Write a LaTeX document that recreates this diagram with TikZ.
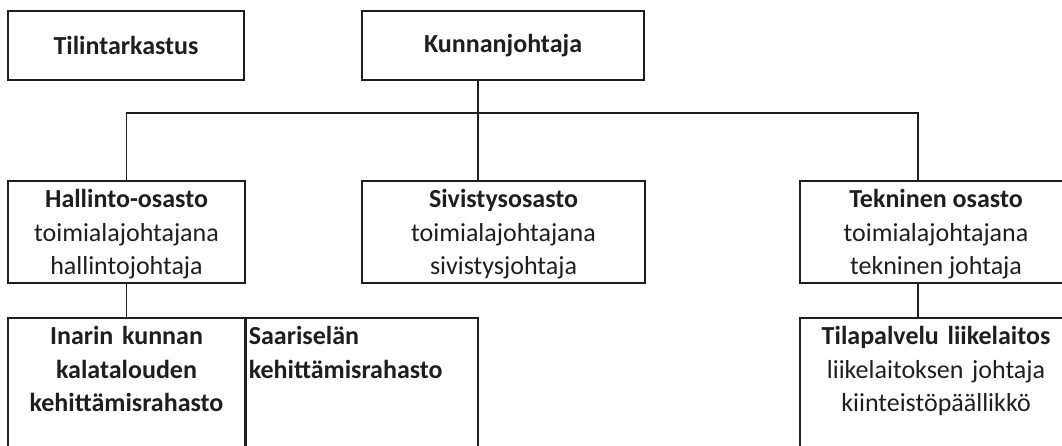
\documentclass[tikz,border=0pt]{standalone}
\usepackage{fontspec}
\setmainfont{Carlito}
\usepackage{tikz}
\usetikzlibrary{positioning}

\definecolor{ink}{HTML}{1e1e1e}
\tikzset{
    box/.style={draw=ink, line width=1.6pt, rectangle, inner xsep=0pt, inner ysep=0pt,
        align=center, text=ink, font=\fontsize{26}{33.5}\selectfont},
    midbox/.style={box, minimum height=102pt, text depth=0pt},
    topbox/.style={box, anchor=north, text height=27pt, text depth=140pt},
    link/.style={draw=ink, line width=1.6pt}
}

\begin{document}
\begin{tikzpicture}[x=1pt,y=-1pt]
    \useasboundingbox (0,0) rectangle (1062,445);
    \clip (0,0) rectangle (1062,445);
    \node[box, minimum width=236pt, minimum height=69pt] (tili) at (126,45.5) {\textbf{Tilintarkastus}};
    \node[box, minimum width=282pt, minimum height=69pt] (kunnan) at (503,45.5) {\textbf{Kunnanjohtaja}};
    \node[midbox, minimum width=237pt] (hallinto) at (126.5,232)
        {\textbf{Hallinto-osasto}\\toimialajohtajana\\hallintojohtaja};
    \node[midbox, minimum width=283pt] (sivistys) at (503.5,232)
        {\textbf{Sivistysosasto}\\toimialajohtajana\\sivistysjohtaja};
    \node[midbox, minimum width=272pt] (tekninen) at (936,232)
        {\textbf{Tekninen osasto}\\toimialajohtajana\\tekninen johtaja};
    \node[topbox, text width=237pt] (inari) at (126.5,317)
        {\textbf{Inarin kunnan}\\\textbf{kalatalouden}\\\textbf{kehittämisrahasto}};
    \node[topbox, anchor=north west, align=left, inner xsep=3pt, text width=226pt] (saari) at (245,317)
        {\textbf{Saariselän}\\\textbf{kehittämisrahasto}};
    \node[topbox, text width=272pt] (tila) at (936,317)
        {\textbf{Tilapalvelu liikelaitos}\\liikelaitoksen johtaja\\kiinteistöpäällikkö};
    \coordinate (jm) at (478,113);
    \coordinate (jr) at (918,113);
    \draw[link] (hallinto.north) |- (jr) -- (jr |- tekninen.north);
    \draw[link] (kunnan.south -| jm) -- (jm |- sivistys.north);
    \draw[link] (hallinto.south) -- (inari.north);
    \draw[link] (tekninen.south -| jr) -- (tila.north -| jr);
\end{tikzpicture}
\end{document}
